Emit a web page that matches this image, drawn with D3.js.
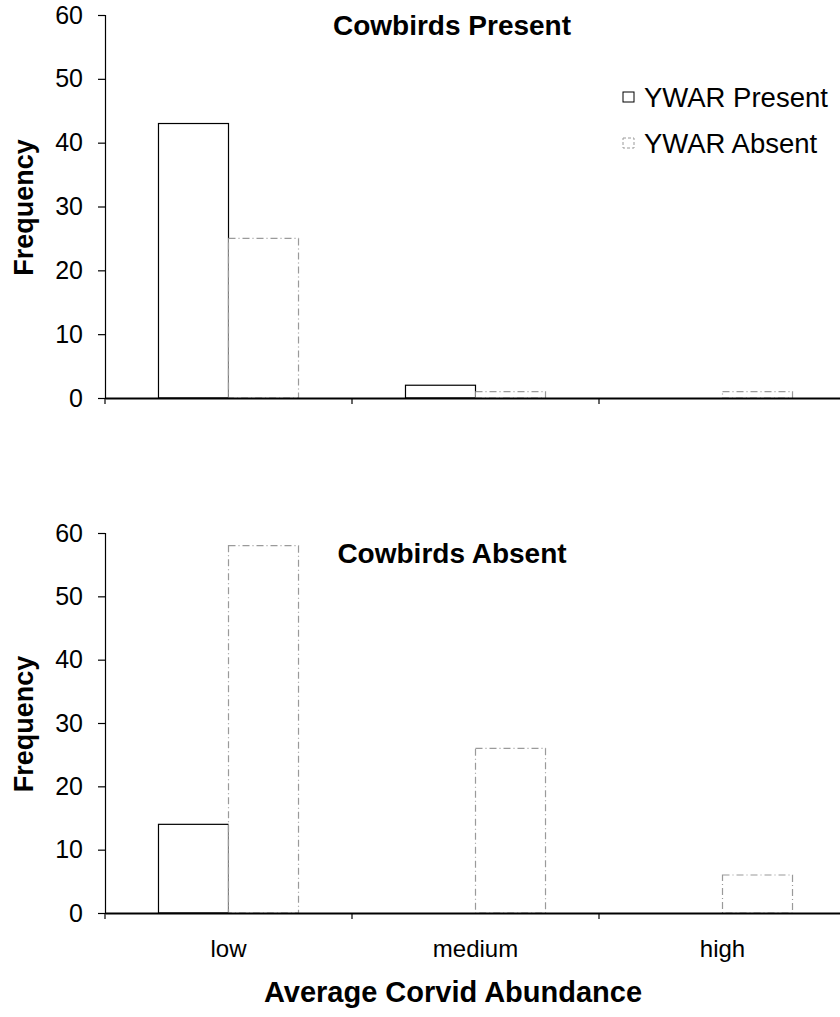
<!DOCTYPE html>
<html>
<head>
<meta charset="utf-8">
<script src="https://cdn.jsdelivr.net/npm/d3@7/dist/d3.min.js"></script>
<style>
  html, body { margin: 0; padding: 0; background: #fff; }
  svg { display: block; font-family: "Liberation Sans", Arial, Helvetica, sans-serif; }
</style>
</head>
<body>
<svg id="chart" width="840" height="1017"></svg>
<script>
// ---- data ----
const categories = ["low", "medium", "high"];
const seriesNames = ["YWAR Present", "YWAR Absent"];
const panelTitles = ["Cowbirds Present", "Cowbirds Absent"];
const cowbirdsPresent_ywarPresent = [43, 2, 0];
const cowbirdsPresent_ywarAbsent = [25, 1, 1];
const cowbirdsAbsent_ywarPresent = [14, 0, 0];
const cowbirdsAbsent_ywarAbsent = [58, 26, 6];
const yTicks = [0, 10, 20, 30, 40, 50, 60];
const xAxisTitle = "Average Corvid Abundance";
const yAxisTitle = "Frequency";

const panels = [
  { title: panelTitles[0], values: [cowbirdsPresent_ywarPresent, cowbirdsPresent_ywarAbsent],
    top: 15, bottom: 398, titleY: 35, showXLabels: false, legend: true },
  { title: panelTitles[1], values: [cowbirdsAbsent_ywarPresent, cowbirdsAbsent_ywarAbsent],
    top: 533, bottom: 913, titleY: 563, showXLabels: true, legend: false }
];

const svg = d3.select("#chart");
const left = 105, right = 846;

const x0 = d3.scaleBand().domain(categories).range([left, right]).paddingInner(0).paddingOuter(0);
const x1 = d3.scaleBand().domain(seriesNames).range([0, x0.bandwidth()]).paddingInner(0).paddingOuter(0.764);

const styles = {
  "YWAR Present": { stroke: "#000", dash: null, width: 1.2 },
  "YWAR Absent": { stroke: "#9a9a9a", dash: "7,3,1,3", width: 1.2 }
};

panels.forEach(p => {
  const y = d3.scaleLinear().domain([0, 60]).range([p.bottom, p.top]);
  const g = svg.append("g");

  // bars
  const rows = categories.map((c, i) => ({ cat: c, vals: seriesNames.map((s, j) => ({ s, v: p.values[j][i] })) }));
  const grp = g.selectAll("g.cat").data(rows).join("g")
    .attr("transform", d => `translate(${x0(d.cat)},0)`);
  grp.selectAll("rect").data(d => d.vals.filter(e => e.v > 0)).join("rect")
    .attr("x", d => x1(d.s))
    .attr("y", d => y(d.v))
    .attr("width", x1.bandwidth())
    .attr("height", d => y(0) - y(d.v))
    .attr("fill", "#fff")
    .attr("stroke", d => styles[d.s].stroke)
    .attr("stroke-width", d => styles[d.s].width)
    .attr("stroke-dasharray", d => styles[d.s].dash);

  // y axis
  const yAxis = d3.axisLeft(y).tickValues(yTicks).tickSize(7).tickPadding(15).tickFormat(d3.format("d"));
  const ya = g.append("g").attr("transform", `translate(${left},0)`).call(yAxis);
  ya.select(".domain").attr("stroke", "#000").attr("stroke-width", 1.2);
  ya.selectAll(".tick line").attr("stroke", "#000").attr("stroke-width", 1.2);
  ya.selectAll(".tick text").attr("font-size", 25).attr("fill", "#000");

  // x axis
  const xAxis = d3.axisBottom(x0).tickSize(0).tickPadding(27).tickFormat(p.showXLabels ? (d => d) : () => "");
  const xa = g.append("g").attr("transform", `translate(0,${p.bottom})`).call(xAxis);
  xa.select(".domain").attr("stroke", "#000").attr("stroke-width", 2);
  xa.selectAll(".tick text").attr("font-size", 24).attr("fill", "#000");
  // boundary tick marks between categories
  const bounds = categories.map(c => x0(c)).concat([x0(categories[categories.length - 1]) + x0.bandwidth()]);
  g.append("g").selectAll("line").data(bounds).join("line")
    .attr("x1", d => d).attr("x2", d => d)
    .attr("y1", p.bottom).attr("y2", p.bottom + 6)
    .attr("stroke", "#000").attr("stroke-width", 1.2);

  // panel title
  g.append("text").attr("x", 452).attr("y", p.titleY)
    .attr("text-anchor", "middle").attr("font-size", 28).attr("font-weight", "bold")
    .text(p.title);

  // y label
  g.append("text")
    .attr("transform", `translate(33,${(p.top + p.bottom) / 2 + 1}) rotate(-90)`)
    .attr("text-anchor", "middle").attr("font-size", 27).attr("font-weight", "bold")
    .text(yAxisTitle);

  if (p.legend) {
    const lg = g.append("g");
    seriesNames.forEach((s, i) => {
      const ly = 107 + i * 46;
      lg.append("rect").attr("x", 623).attr("y", ly - 15).attr("width", 11).attr("height", 10)
        .attr("fill", "#fff").attr("stroke", styles[s].stroke).attr("stroke-width", 1)
        .attr("stroke-dasharray", s === "YWAR Absent" ? "3,2" : null);
      lg.append("text").attr("x", 644).attr("y", ly).attr("font-size", 27.5).text(s);
    });
  }
});

// x axis title
svg.append("text").attr("x", 453).attr("y", 1002)
  .attr("text-anchor", "middle").attr("font-size", 29).attr("font-weight", "bold")
  .text(xAxisTitle);
</script>
</body>
</html>
